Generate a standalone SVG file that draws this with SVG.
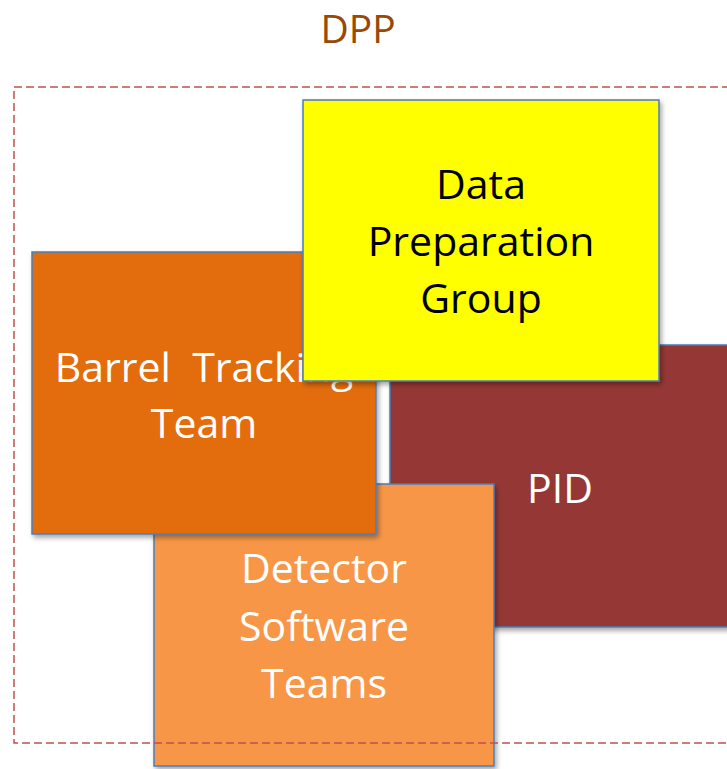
<svg xmlns="http://www.w3.org/2000/svg" width="727" height="769" viewBox="0 0 727 769">
<style>
.box{stroke:#4A7EBB;stroke-width:1.5;filter:url(#sh)}
.lbl{font-family:"Open Sans","Noto Sans",sans-serif;font-size:41px;text-anchor:middle}
.w{fill:#FFFFFF}
</style>
<defs>
<filter id="sh" x="-10%" y="-10%" width="125%" height="125%">
<feDropShadow dx="2" dy="3" stdDeviation="2.5" flood-color="#000" flood-opacity="0.35"/>
</filter>
</defs>
<rect width="727" height="769" fill="#FFFFFF"/>
<text id="title" x="358" y="43" class="lbl" style="font-size:39px" fill="#984807">DPP</text>
<g id="pid">
<rect class="box" x="390" y="345" width="345" height="282" fill="#953735"/>
<text x="560" y="503" class="lbl w">PID</text>
</g>
<g id="detector">
<rect class="box" x="154" y="484" width="340" height="282" fill="#F79646"/>
<text x="324" y="583" class="lbl w">Detector</text>
<text x="324" y="641" class="lbl w">Software</text>
<text x="324" y="698" class="lbl w">Teams</text>
</g>
<g id="barrel">
<rect class="box" x="32" y="252" width="344" height="282" fill="#E36C0A"/>
<text x="204" y="382" class="lbl w" xml:space="preserve">Barrel  Tracking</text>
<text x="204" y="438" class="lbl w">Team</text>
</g>
<g id="dpg">
<rect class="box" x="303" y="100" width="356" height="281" fill="#FFFF00"/>
<text x="481" y="199" class="lbl" fill="#000000">Data</text>
<text x="481" y="256" class="lbl" fill="#000000">Preparation</text>
<text x="481" y="313" class="lbl" fill="#000000">Group</text>
</g>
<g id="connectors"></g>
<g id="frame">
<rect x="14" y="87" width="730" height="656" fill="none" stroke="#C0504D" stroke-width="1.5" stroke-dasharray="8 4"/>
</g>
</svg>
